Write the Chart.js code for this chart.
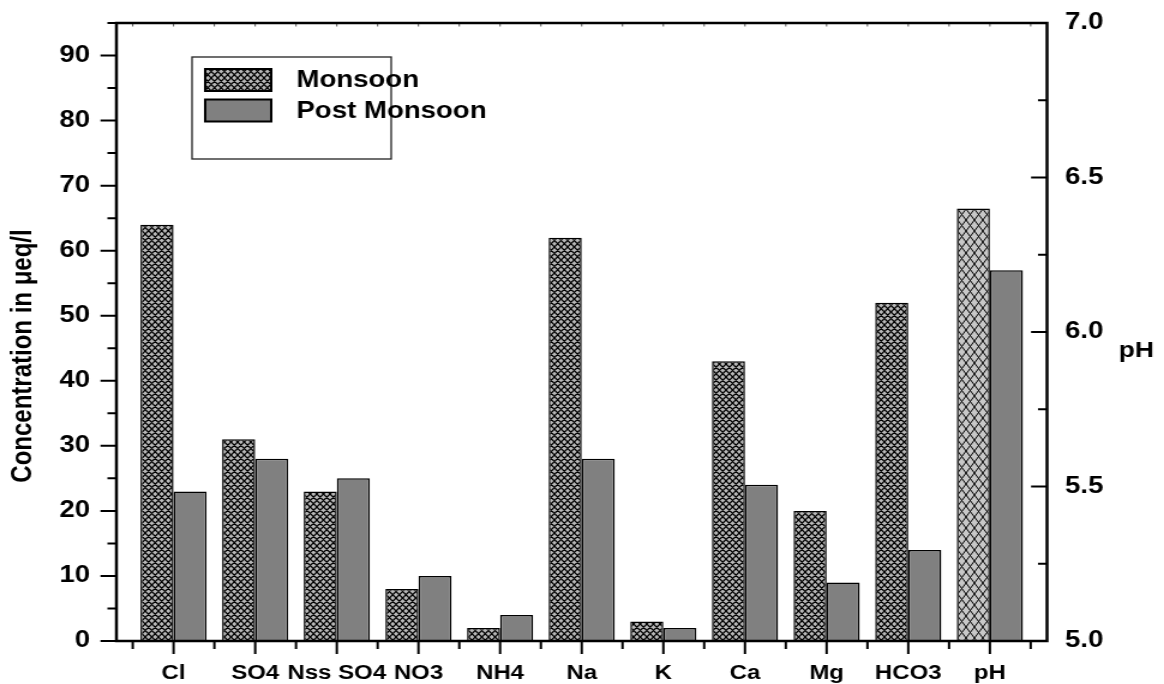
<!DOCTYPE html>
<html>
<head>
<meta charset="utf-8">
<script src="https://cdn.jsdelivr.net/npm/chart.js@4.4.1/dist/chart.umd.min.js"></script>
<style>
  html, body { margin: 0; padding: 0; background: #fff; }
  canvas { display: block; }
</style>
</head>
<body>
<!-- drawn at 970 wide and stretched to 1164, like the original figure -->
<canvas id="chart" width="970" height="684" style="width:1164px;height:684px"></canvas>
<script>
const categories = ["Cl", "SO4", "Nss SO4", "NO3", "NH4", "Na", "K", "Ca", "Mg", "HCO3", "pH"];
const monsoon = [64, 31, 23, 8, 2, 62, 3, 43, 20, 52];
const postMonsoon = [23, 28, 25, 10, 4, 28, 2, 24, 9, 14];
const phMonsoon = 6.4;
const phPostMonsoon = 6.2;
const seriesLabels = ["Monsoon", "Post Monsoon"];
const yTitle = "Concentration in \u03bceq/l";
const y1Title = "pH";

const FONT = "'Liberation Sans', Arial, Helvetica, sans-serif";
Chart.defaults.font.family = FONT;
Chart.defaults.font.weight = "bold";
Chart.defaults.color = "#000";

// cross hatch fill
function hatch(bg, a, b, lw) {
  const c = document.createElement("canvas");
  c.width = 2 * a;
  c.height = 2 * b;
  const g = c.getContext("2d");
  g.fillStyle = bg;
  g.fillRect(0, 0, c.width, c.height);
  g.strokeStyle = "#000";
  g.lineWidth = lw;
  g.beginPath();
  for (let k = -6; k <= 6; k++) {
    g.moveTo(k * a - 6 * a, -6 * b);
    g.lineTo(k * a + 6 * a, 6 * b);
    g.moveTo(k * a + 6 * a, -6 * b);
    g.lineTo(k * a - 6 * a, 6 * b);
  }
  g.stroke();
  return g.createPattern(c, "repeat");
}

const hatchDark = hatch("#b8b8b8", 5.5, 6.5, 1.2);
const hatchLight = hatch("#c8c8c8", 7, 11, 1);
const solidGrey = "#808080";

function barSet(label, data, bg, axis) {
  return {
    label,
    data,
    backgroundColor: bg,
    borderColor: "#000",
    borderWidth: 1.5,
    yAxisID: axis,
    skipNull: true,
    categoryPercentage: 0.81,
    barPercentage: 1
  };
}

const ionPoints = arr => arr.map((v, i) => ({ x: i + 1, y: v }));
const phX = categories.indexOf("pH") + 1;

// keep the label padding from pushing the plot area around
function fixBox(w, h) {
  return s => {
    if (w) s.width = w;
    if (h) s.height = h;
    s.paddingTop = 0;
    s.paddingBottom = 0;
    s.paddingLeft = 0;
    s.paddingRight = 0;
  };
}

const framePlugin = {
  id: "frame",
  afterDatasetsDraw(chart) {
    const { ctx, chartArea: a, scales } = chart;
    const { x, y, y1 } = scales;
    ctx.save();
    ctx.strokeStyle = "#000";

    // left ticks (outside)
    ctx.lineWidth = 2;
    ctx.beginPath();
    for (let i = 0; i <= 19; i++) {
      const py = y.getPixelForValue(i * 5);
      const len = i % 2 === 0 ? 13.3 : 7.5;
      ctx.moveTo(a.left - len, py);
      ctx.lineTo(a.left, py);
    }
    // right ticks (inside)
    for (let i = 0; i <= 8; i++) {
      const py = y1.getPixelForValue(5 + i * 0.25);
      const len = i % 2 === 0 ? 13.3 : 7.5;
      ctx.moveTo(a.right - len, py);
      ctx.lineTo(a.right, py);
    }
    // bottom ticks
    for (let i = 1; i <= 23; i++) {
      const px = x.getPixelForValue(i * 0.5);
      const len = i % 2 === 0 ? 13 : 8;
      ctx.moveTo(px, a.bottom);
      ctx.lineTo(px, a.bottom + len);
    }
    ctx.stroke();

    // top ticks
    ctx.lineWidth = 1;
    ctx.strokeStyle = "#555";
    ctx.beginPath();
    for (let i = 1; i <= 23; i++) {
      const px = x.getPixelForValue(i * 0.5);
      ctx.moveTo(px, a.top);
      ctx.lineTo(px, a.top + 3.5);
    }
    ctx.stroke();

    // frame
    ctx.strokeStyle = "#000";
    ctx.lineWidth = 2.5;
    ctx.strokeRect(a.left, a.top, a.right - a.left, a.bottom - a.top);

    // legend
    const ds = chart.data.datasets;
    ctx.lineWidth = 1.3;
    ctx.strokeStyle = "#222";
    ctx.strokeRect(160, 57, 166, 102);
    ctx.font = `bold 23px ${FONT}`;
    ctx.textBaseline = "middle";
    ctx.textAlign = "left";
    [0, 1].forEach(i => {
      const top = i === 0 ? 69 : 99.5;
      ctx.fillStyle = ds[i].backgroundColor;
      ctx.fillRect(171, top, 55, 22);
      ctx.lineWidth = 2;
      ctx.strokeStyle = "#000";
      ctx.strokeRect(171, top, 55, 22);
      ctx.fillStyle = "#000";
      ctx.fillText(ds[i].label, 247, top + 12);
    });

    // axis titles
    ctx.save();
    ctx.translate(19, 356);
    ctx.rotate(-Math.PI / 2);
    ctx.textAlign = "center";
    ctx.font = `bold 24px ${FONT}`;
    ctx.fillText(yTitle, 0, 0);
    ctx.restore();

    ctx.font = `bold 22px ${FONT}`;
    ctx.textAlign = "center";
    ctx.fillText(y1Title, 947, 351);
    ctx.restore();
  }
};

new Chart(document.getElementById("chart"), {
  type: "bar",
  data: {
    datasets: [
      barSet(seriesLabels[0], ionPoints(monsoon), hatchDark, "y"),
      barSet(seriesLabels[1], ionPoints(postMonsoon), solidGrey, "y"),
      barSet("pH " + seriesLabels[0], [{ x: phX, y: phMonsoon }], hatchLight, "y1"),
      barSet("pH " + seriesLabels[1], [{ x: phX, y: phPostMonsoon }], solidGrey, "y1")
    ]
  },
  options: {
    responsive: false,
    devicePixelRatio: 1,
    animation: false,
    layout: { padding: { top: 23, left: 0, right: 0, bottom: 0 } },
    plugins: {
      legend: { display: false },
      tooltip: { enabled: false }
    },
    scales: {
      x: {
        type: "linear",
        min: 0.3,
        max: 11.7,
        offset: false,
        grid: { display: false, drawTicks: false },
        border: { display: false },
        ticks: {
          stepSize: 1,
          includeBounds: false,
          autoSkip: false,
          maxRotation: 0,
          padding: 20,
          font: { size: 20, weight: "bold" },
          callback: v => categories[v - 1] || ""
        },
        afterFit: fixBox(0, 43)
      },
      y: {
        position: "left",
        min: 0,
        max: 95,
        grid: { display: false, drawTicks: false },
        border: { display: false },
        ticks: {
          stepSize: 10,
          includeBounds: false,
          padding: 22,
          font: { size: 23, weight: "bold" }
        },
        afterFit: fixBox(97, 0)
      },
      y1: {
        position: "right",
        min: 5,
        max: 7,
        grid: { display: false, drawTicks: false },
        border: { display: false },
        ticks: {
          stepSize: 0.5,
          includeBounds: false,
          padding: 15,
          font: { size: 23, weight: "bold" },
          callback: v => v.toFixed(1)
        },
        afterFit: fixBox(97.5, 0)
      }
    }
  },
  plugins: [framePlugin]
});
</script>
</body>
</html>
